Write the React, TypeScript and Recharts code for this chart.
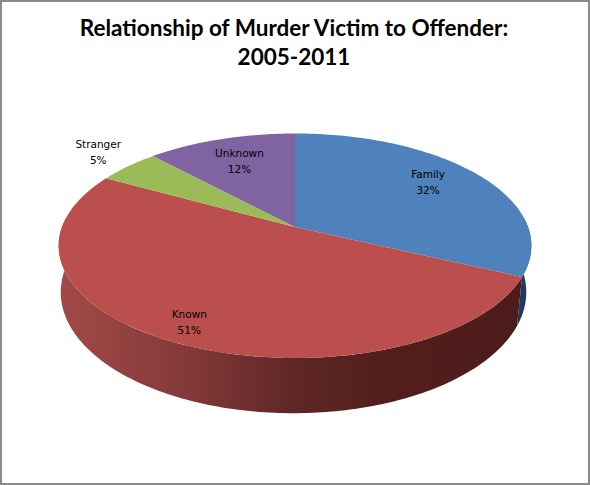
import React from "react";
import { PieChart, Pie } from "recharts";

const categories = ["Family", "Known", "Stranger", "Unknown"];
const shares = [32, 51, 5, 12];

const titleLines = ["Relationship of Murder Victim to Offender:", "2005-2011"];

const sliceColors = ["#4f81bd", "#bb4f4d", "#9bbb59", "#8064a2"];
const wallStops = [
  [["0%", "#1f3a60"], ["100%", "#1f3a60"]],
  [["0%", "#a24a47"], ["26%", "#86393a"], ["50%", "#5f2725"], ["68%", "#521e1c"], ["100%", "#4c1c1a"]],
  [["0%", "#5d7030"], ["100%", "#5d7030"]],
  [["0%", "#4c3c61"], ["100%", "#4c3c61"]],
];
// how far out each label sits, as a share of the radius, and a small lift in px
const labelRadius = [0.72, 0.87, 1.2, 0.72];
const labelLift = [5, 2, 4, 0];

const data = categories.map((name, i) => ({
  name,
  value: shares[i],
  fill: sliceColors[i],
}));

// perspective of the tilted disc: top face and the bottom rim of the wall
const TILT = 0.167;
const TOP_FACE = { rise: -71.2, drop: 0 };
const BOTTOM_RIM = { rise: -72.2, drop: 45, shrink: 0.985, shift: -1.5 };

const project = (cx: number, cy: number, rOuter: number, angle: number, r: number, ring: any) => {
  const t = ((90 - angle) * Math.PI) / 180;
  const u = r * Math.sin(t);
  const v = r * Math.cos(t);
  const d = 1 + TILT * v;
  return {
    x: cx + (ring.shift ?? 0) + (rOuter * (ring.shrink ?? 1) * u) / d,
    y: (ring.rise * v + cy + ring.drop) / d,
  };
};

const arcPoints = (props: any, from: number, to: number, ring: any) => {
  const pts = [];
  const steps = Math.max(2, Math.ceil(Math.abs(to - from)));
  for (let i = 0; i <= steps; i++) {
    const p = project(props.cx, props.cy, props.outerRadius, from + ((to - from) * i) / steps, 1, ring);
    pts.push(`${p.x.toFixed(2)} ${p.y.toFixed(2)}`);
  }
  return pts;
};

const Slice3D = (props: any) => {
  const { cx, cy, startAngle, endAngle, fill, index } = props;
  const top = arcPoints(props, startAngle, endAngle, TOP_FACE);
  const facePath = `M${cx} ${cy}L${top.join("L")}Z`;

  // only the front part of the rim shows (angles are -185..5 in chart terms)
  const wallFrom = Math.min(startAngle, 5);
  const wallTo = Math.max(endAngle, -185);
  let wallPath = null;
  if (wallFrom > wallTo) {
    const upper = arcPoints(props, wallFrom, wallTo, TOP_FACE);
    const lower = arcPoints(props, wallTo, wallFrom, BOTTOM_RIM);
    wallPath = `M${upper.join("L")}L${lower.join("L")}Z`;
  }
  const gradId = `wall-${index}`;
  return (
    <g>
      {wallPath && (
        <>
          <defs>
            <linearGradient id={gradId} gradientUnits="userSpaceOnUse" x1={58} x2={531} y1={0} y2={0}>
              {wallStops[index].map(([offset, color]) => (
                <stop key={offset} offset={offset} stopColor={color} />
              ))}
            </linearGradient>
          </defs>
          <path d={wallPath} fill={`url(#${gradId})`} stroke="none" />
        </>
      )}
      <path d={facePath} fill={fill} stroke="none" />
    </g>
  );
};

const SliceLabel = (props: any) => {
  const { cx, cy, midAngle, name, value, index, outerRadius } = props;
  const p = project(cx, cy, outerRadius, midAngle, labelRadius[index], TOP_FACE);
  const y = p.y - labelLift[index];
  return (
    <text x={p.x} textAnchor="middle" fontFamily="'DejaVu Sans'" fontSize={10.5} fill="#000">
      <tspan x={p.x} y={y - 4}>{name}</tspan>
      <tspan x={p.x} y={y + 12}>{`${value}%`}</tspan>
    </text>
  );
};

const App = () => {
  return (
    <div style={{ position: "absolute", left: 0, top: 0, width: 590, height: 485, background: "#fff" }}>
      <div
        style={{
          position: "absolute",
          left: 0,
          top: 0,
          width: 590,
          height: 485,
          boxSizing: "border-box",
          border: "2px solid #8a8a8a",
        }}
      />
      <PieChart width={590} height={485} margin={{ top: 0, right: 0, bottom: 0, left: 0 }}>
        {titleLines.map((line, i) => (
          <text
            key={line}
            x={294}
            y={35.5 + i * 29}
            textAnchor="middle"
            fontFamily="Lato"
            fontWeight={700}
            fontSize={22.5}
            fill="#000"
          >
            {line}
          </text>
        ))}
        <Pie
          data={data}
          dataKey="value"
          nameKey="name"
          cx={295}
          cy={227}
          innerRadius={0}
          outerRadius={233}
          startAngle={90}
          endAngle={-270}
          stroke="none"
          shape={Slice3D}
          label={SliceLabel}
          labelLine={false}
          isAnimationActive={false}
        />
      </PieChart>
    </div>
  );
};

export default App;
